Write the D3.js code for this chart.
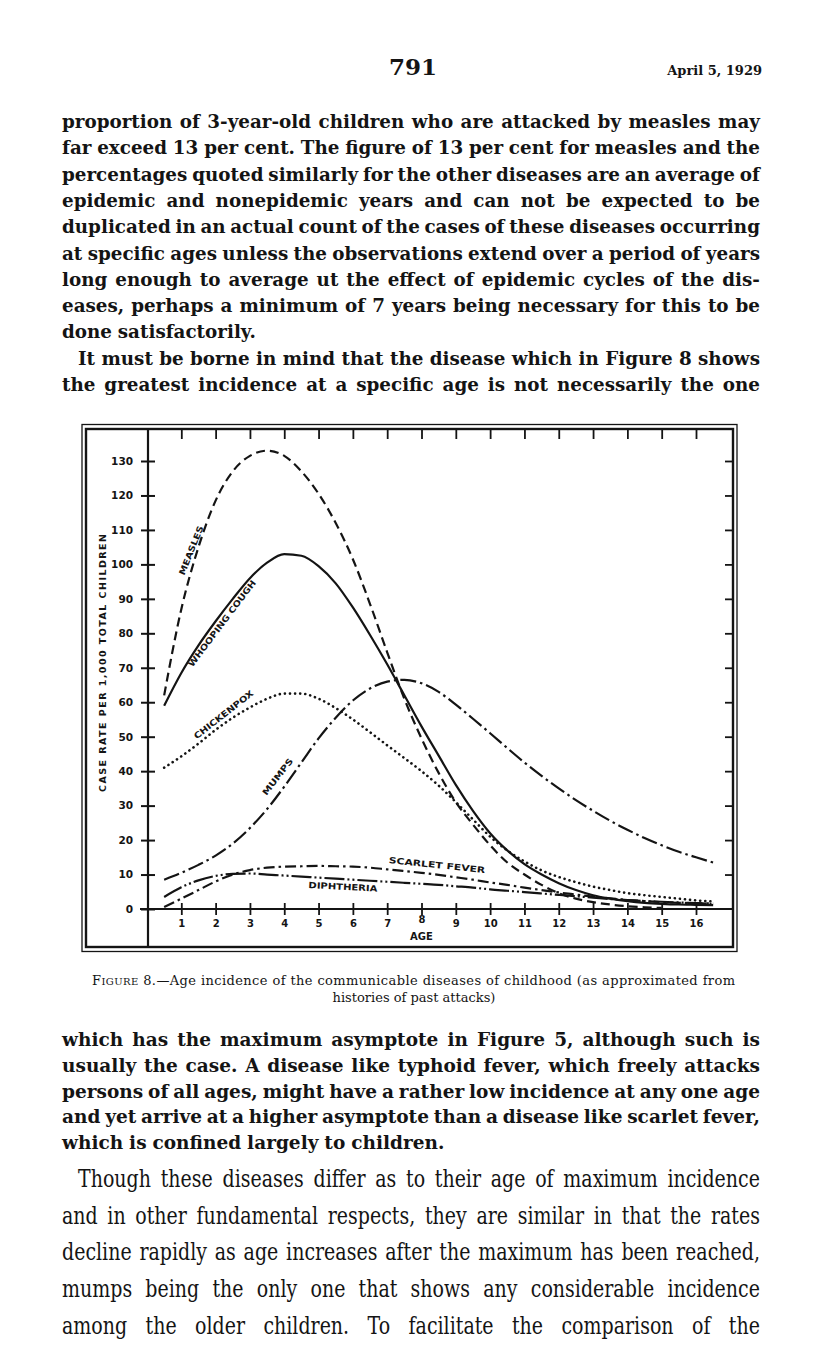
<!DOCTYPE html>
<html>
<head>
<meta charset="utf-8">
<script src="https://d3js.org/d3.v7.min.js"></script>
<style>
  body { margin: 0; background: #fff; }
  svg { display: block; }
</style>
</head>
<body>
<svg id="page" width="816" height="1351"></svg>
<script>
// ---- text of the page ----
var topLines = [
    "proportion of 3-year-old children who are attacked by measles may",
    "far exceed 13 per cent.  The figure of 13 per cent for measles and the",
    "percentages quoted similarly for the other diseases are an average of",
    "epidemic and nonepidemic years and can not be expected to be",
    "duplicated in an actual count of the cases of these diseases occurring",
    "at specific ages unless the observations extend over a period of years",
    "long enough to average ut the effect of epidemic cycles of the dis-",
    "eases, perhaps a minimum of 7 years being necessary for this to be",
    "done satisfactorily.",
    "It must be borne in mind that the disease which in Figure 8 shows",
    "the greatest incidence at a specific age is not necessarily the one"
];
var midLines = [
    "which has the maximum asymptote in Figure 5, although such is",
    "usually the case.  A disease like typhoid fever, which freely attacks",
    "persons of all ages, might have a rather low incidence at any one age",
    "and yet arrive at a higher asymptote than a disease like scarlet fever,",
    "which is confined largely to children."
];
var endLines = [
    "Though these diseases differ as to their age of maximum incidence",
    "and in other fundamental respects, they are similar in that the rates",
    "decline rapidly as age increases after the maximum has been reached,",
    "mumps being the only one that shows any considerable incidence",
    "among the older children.  To facilitate the comparison of the"
];

// ---- chart data (rate per 1,000 children) ----
var ageTicks = [1, 2, 3, 4, 5, 6, 7, 8, 9, 10, 11, 12, 13, 14, 15, 16];
var rateTicks = [0, 10, 20, 30, 40, 50, 60, 70, 80, 90, 100, 110, 120, 130];
var ages = [0.5, 1, 1.5, 2, 2.5, 3, 3.5, 4, 4.5, 5, 5.5, 6, 6.5, 7, 7.5, 8, 8.5,
    9, 9.5, 10, 10.5, 11, 11.5, 12, 12.5, 13, 13.5, 14, 14.5, 15, 15.5, 16, 16.5];
var measles = [62, 87, 105, 118.5, 127, 131.5, 133, 131.5, 127, 120.5, 112, 101.5, 88.5, 74.5, 61, 49.5, 39.5,
    31, 24.5, 18.5, 13.5, 10, 7, 4.6, 3, 2, 1.3, 0.8, 0.5, 0.3, null, null, null];
var whoopingCough = [59, 68.5, 76.5, 83.5, 90, 96, 100.5, 103, 102.5, 99.5, 94.5, 87.5, 79.5, 71, 62, 53, 44.5,
    36, 28.5, 22, 17, 13, 10, 7.5, 5.5, 4, 3, 2.3, 1.8, 1.5, 1.3, 1.2, 1.1];
var chickenpox = [41, 44.3, 48, 52, 55.5, 58.5, 61, 62.5, 62.5, 61, 58.3, 55, 51.3, 47.5, 43.8, 40, 35.8,
    31, 26, 21, 17, 13.8, 11.2, 9.3, 7.8, 6.5, 5.5, 4.6, 4, 3.5, 3, 2.5, 2.2];
var mumps = [8.5, 10.5, 12.8, 15.5, 19, 23.5, 29, 35.5, 42.5, 49.5, 55.5, 60.5, 64, 66, 66.5, 65.5, 63,
    59.3, 55.2, 51, 46.7, 42.5, 38.6, 35, 31.6, 28.5, 25.6, 23, 20.6, 18.5, 16.6, 15, 13.5];
var scarletFever = [0.6, 3, 5.5, 8, 10, 11.3, 12, 12.3, 12.4, 12.5, 12.4, 12.3, 12, 11.5, 11, 10.5, 9.9,
    9.2, 8.5, 7.7, 7, 6.2, 5.5, 4.8, 4.2, 3.6, 3.1, 2.6, 2.3, 2, 1.8, 1.7, 1.6];
var diphtheria = [3.5, 6.3, 8.3, 9.6, 10.2, 10.3, 10, 9.7, 9.4, 9.1, 8.8, 8.5, 8.2, 7.9, 7.6, 7.3, 7,
    6.6, 6.2, 5.7, 5.3, 4.9, 4.5, 4.1, 3.7, 3.3, 2.9, 2.6, 2.3, 2.1, 1.9, 1.7, 1.5];

var seriesNames = ["MEASLES", "WHOOPING COUGH", "CHICKENPOX", "MUMPS", "SCARLET FEVER", "DIPHTHERIA"];
var seriesValues = [measles, whoopingCough, chickenpox, mumps, scarletFever, diphtheria];

var ink = "#141414";
var svg = d3.select("svg#page");
svg.append("rect").attr("width", 816).attr("height", 1351).attr("fill", "#fff");

// ---- running head ----
svg.append("text")
    .attr("x", 413).attr("y", 75)
    .attr("text-anchor", "middle")
    .style("font", "bold 23px 'DejaVu Serif'")
    .attr("fill", ink)
    .text("791");
svg.append("text")
    .attr("x", 762).attr("y", 75)
    .attr("text-anchor", "end")
    .style("font", "bold 13px 'DejaVu Serif'")
    .attr("fill", ink)
    .text("April 5, 1929");

// justified lines, word by word
function drawBlock(lines, opts) {
    var g = svg.append("g").attr("class", "para");
    var rows = lines.map(function (str, i) {
        var row = g.append("g");
        var words = str.split(/\s+/);
        var nodes = words.map(function (w) {
            return row.append("text").style("font", opts.font).attr("fill", ink).text(w);
        });
        var widths = nodes.map(function (n) { return n.node().getComputedTextLength(); });
        var left = opts.indent.indexOf(i) >= 0 ? opts.indentX : opts.x0;
        return { row: row, nodes: nodes, widths: widths, left: left, i: i,
            justify: opts.last.indexOf(i) < 0 };
    });
    var s = 1;
    rows.forEach(function (r) {
        var need = d3.sum(r.widths) + opts.space * 0.8 * (r.widths.length - 1);
        s = Math.min(s, (opts.x1 - r.left) / need);
    });
    rows.forEach(function (r) {
        var n = r.widths.length;
        var avail = (opts.x1 - r.left) / s;
        var gap = (r.justify && n > 1) ? (avail - d3.sum(r.widths)) / (n - 1) : opts.space;
        var cx = 0;
        r.nodes.forEach(function (nd, k) {
            nd.attr("x", cx);
            cx += r.widths[k] + gap;
        });
        r.row.attr("transform", "translate(" + r.left + "," + (opts.y0 + r.i * opts.step) +
            ") scale(" + s + "," + (opts.sy || 1) + ")");
    });
}

drawBlock(topLines, {
    x0: 62, x1: 760, indentX: 78, y0: 128, step: 26.3,
    font: "bold 19px 'DejaVu Serif'", space: 6, indent: [9], last: [8]
});
drawBlock(midLines, {
    x0: 62, x1: 760, indentX: 78, y0: 1046, step: 25.8,
    font: "bold 19px 'DejaVu Serif'", space: 6, indent: [], last: [4]
});
drawBlock(endLines, {
    x0: 62, x1: 760, indentX: 78, y0: 1187, step: 36.7, sy: 1.3,
    font: "19px 'DejaVu Serif'", space: 6, indent: [0], last: []
});

// ---- figure ----
var x = d3.scaleLinear().domain([0, 16]).range([147, 696]);
var y = d3.scaleLinear().domain([0, 130]).range([909, 461]);

var frame = svg.append("g").attr("id", "frame");
frame.append("rect")
    .attr("x", 82).attr("y", 424.5).attr("width", 655).attr("height", 527)
    .attr("fill", "none").attr("stroke", ink).attr("stroke-width", 1.3);
frame.append("rect")
    .attr("x", 86).attr("y", 429).attr("width", 647).attr("height", 518)
    .attr("fill", "none").attr("stroke", ink).attr("stroke-width", 2.4);

var plot = svg.append("g").attr("id", "plot");

// y axis (labels at left, ticks crossing the line)
var yAxis = d3.axisLeft(y).tickValues(rateTicks).tickSize(-7).tickPadding(15).tickSizeOuter(0);
var yGroup = plot.append("g").attr("transform", "translate(148,0)").call(yAxis);
yGroup.select(".domain").remove();
yGroup.selectAll(".tick line").attr("x1", -7).attr("x2", 7).attr("stroke", ink).attr("stroke-width", 2);
yGroup.selectAll(".tick text")
    .attr("fill", ink)
    .style("font", "bold 10.5px 'DejaVu Sans'");
plot.append("line")
    .attr("x1", 148).attr("x2", 148).attr("y1", 429).attr("y2", 947)
    .attr("stroke", ink).attr("stroke-width", 2.2);

// x axis
var xAxis = d3.axisBottom(x).tickValues(ageTicks).tickSize(6).tickPadding(10).tickSizeOuter(0);
var xGroup = plot.append("g").attr("transform", "translate(0,909)").call(xAxis);
xGroup.select(".domain").remove();
xGroup.selectAll(".tick line").attr("y1", -6).attr("y2", 6).attr("stroke", ink).attr("stroke-width", 1.8);
xGroup.selectAll(".tick text")
    .attr("fill", ink)
    .style("font", "bold 10px 'DejaVu Sans'")
    .attr("y", function (d) { return d === 8 ? 7 : 11; });
plot.append("line")
    .attr("x1", 140).attr("x2", 733).attr("y1", 909).attr("y2", 909)
    .attr("stroke", ink).attr("stroke-width", 2.2);
plot.append("text")
    .attr("x", x(8)).attr("y", 940)
    .attr("text-anchor", "middle")
    .style("font", "bold 10px 'DejaVu Sans'")
    .attr("fill", ink)
    .text("AGE");

// border ticks on top and right
var topAxis = d3.axisTop(x).tickValues(ageTicks).tickSize(-9).tickFormat("").tickSizeOuter(0);
var topGroup = plot.append("g").attr("transform", "translate(0,430)").call(topAxis);
topGroup.select(".domain").remove();
topGroup.selectAll(".tick line").attr("stroke", ink).attr("stroke-width", 1.8);
var rightAxis = d3.axisLeft(y).tickValues(rateTicks.slice(1)).tickSize(8).tickFormat("").tickSizeOuter(0);
var rightGroup = plot.append("g").attr("transform", "translate(733,0)").call(rightAxis);
rightGroup.select(".domain").remove();
rightGroup.selectAll(".tick line").attr("stroke", ink).attr("stroke-width", 1.8);

// y title
plot.append("text")
    .attr("transform", "translate(103,663) rotate(-90)")
    .attr("text-anchor", "middle")
    .attr("dominant-baseline", "middle")
    .attr("textLength", 258)
    .attr("lengthAdjust", "spacing")
    .style("font", "bold 9.5px 'DejaVu Sans'")
    .attr("fill", ink)
    .text("CASE RATE PER 1,000 TOTAL CHILDREN");

// curves
var dashes = ["9,5", null, "0.1,5", "16,4,2.5,4", "11,4,2.5,4", "20,3,2,3,2,3"];
var line = d3.line()
    .defined(function (d) { return d[1] !== null; })
    .x(function (d) { return x(d[0]); })
    .y(function (d) { return y(d[1]); })
    .curve(d3.curveMonotoneX);

plot.append("g").attr("class", "curves")
    .selectAll("path")
    .data(seriesValues)
    .enter()
    .append("path")
    .attr("d", function (vals) {
        return line(ages.map(function (a, i) { return [a, vals[i]]; }));
    })
    .attr("fill", "none")
    .attr("stroke", ink)
    .attr("stroke-width", function (d, i) { return i === 2 ? 2.6 : 2.2; })
    .attr("stroke-linecap", function (d, i) { return i === 2 ? "round" : "butt"; })
    .attr("stroke-dasharray", function (d, i) { return dashes[i]; });

// labels along the curves (age, rate, angle, length)
var labelAge = [1.3, 2.2, 2.24, 3.82, 8.45, 5.71];
var labelRate = [104, 82.8, 56.3, 38.3, 12.6, 6.3];
var labelAngle = [-68, -53, -38, -52, 6, 3];
var labelLength = [52, 106, 73, 44, 97, 69];

plot.append("g").attr("class", "labels")
    .selectAll("text")
    .data(seriesNames)
    .enter()
    .append("text")
    .attr("transform", function (d, i) {
        return "translate(" + x(labelAge[i]) + "," + y(labelRate[i]) + ") rotate(" + labelAngle[i] + ")";
    })
    .attr("text-anchor", "middle")
    .attr("dominant-baseline", "middle")
    .attr("textLength", function (d, i) { return labelLength[i]; })
    .attr("lengthAdjust", "spacingAndGlyphs")
    .style("font", "bold 8.5px 'DejaVu Sans'")
    .attr("fill", ink)
    .text(function (d) { return d; });

// ---- caption ----
var cap = svg.append("text")
    .attr("x", 92).attr("y", 985)
    .attr("textLength", 643)
    .attr("lengthAdjust", "spacing")
    .style("font", "13px 'DejaVu Serif'")
    .attr("fill", ink);
cap.append("tspan").text("F");
cap.append("tspan").style("font-size", "10px").text("IGURE");
cap.append("tspan").text(" 8.\u2014Age incidence of the communicable diseases of childhood (as approximated from");
svg.append("text")
    .attr("x", 414).attr("y", 1002)
    .attr("text-anchor", "middle")
    .style("font", "13px 'DejaVu Serif'")
    .attr("fill", ink)
    .text("histories of past attacks)");
</script>
</body>
</html>
